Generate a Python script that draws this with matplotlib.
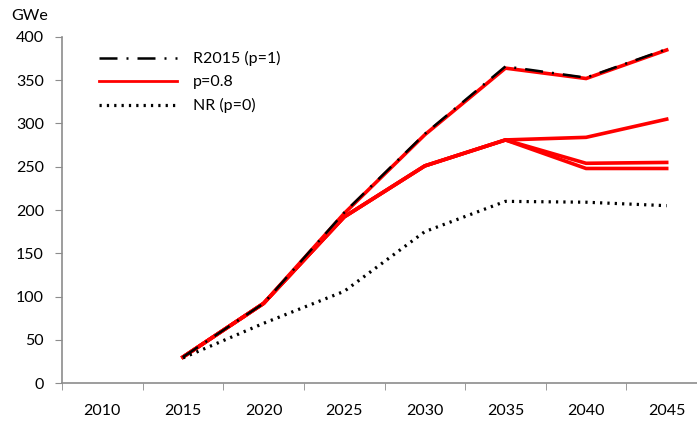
import matplotlib
matplotlib.use("Agg")
import matplotlib.pyplot as plt
import numpy as np

years = ["2010", "2015", "2020", "2025", "2030", "2035", "2040", "2045"]

# GWe, None where there is no value
r2015 = [None, 30, 92, 197, 288, 366, 353, 386]
p08_a = [None, 30, 92, 196, 287, 364, 352, 385]
p08_b = [None, 30, 92, 192, 251, 281, 284, 305]
p08_c = [None, 30, 92, 192, 251, 281, 254, 255]
p08_d = [None, 30, 92, 192, 251, 281, 248, 248]
nr = [None, 29, 69, 106, 175, 210, 209, 205]

plt.rcParams["font.family"] = ["Lato", "DejaVu Sans"]
plt.rcParams["font.size"] = 11.5

GREY = "#8c8c8c"

def arr(vals):
    return np.array([np.nan if v is None else v for v in vals], dtype=float)

fig = plt.figure(figsize=(6.97, 4.23), dpi=100)
ax = fig.add_axes([62 / 697, 40 / 423, 645 / 697, 346 / 423])

x = np.arange(len(years))

for i, s in enumerate([p08_a, p08_b, p08_c, p08_d]):
    ax.plot(x, arr(s), color="#ff0000", lw=2.6, solid_joinstyle="miter",
            label="p=0.8" if i == 0 else None, zorder=3)
ax.plot(x, arr(r2015), color="black", lw=1.8, dashes=(7.2, 3.6, 0.8, 3.6),
        label="R2015 (p=1)", zorder=4)
ax.plot(x, arr(nr), color="black", lw=2.3, dashes=(0.7, 1.6),
        label="NR (p=0)", zorder=3)

ax.set_xlim(-0.5, len(years) - 0.5)
ax.set_ylim(0, 400)
ax.set_yticks(range(0, 401, 50))

ax.set_xticks(x)
ax.set_xticklabels(years)
ax.set_xticks(np.arange(len(years)) - 0.5, minor=True)
ax.tick_params(axis="x", which="major", length=0, pad=15)
ax.tick_params(axis="x", which="minor", length=5, color=GREY, direction="out")
ax.tick_params(axis="y", length=5, color=GREY, pad=8)

for side in ("top", "right"):
    ax.spines[side].set_visible(False)
for side in ("left", "bottom"):
    ax.spines[side].set_color(GREY)
    ax.spines[side].set_linewidth(1.2)

fig.text(11 / 697, 1 - 16 / 423, "GWe", ha="left", va="center")

handles, labels = ax.get_legend_handles_labels()
order = [labels.index("R2015 (p=1)"), labels.index("p=0.8"), labels.index("NR (p=0)")]
leg = ax.legend([handles[i] for i in order], [labels[i] for i in order],
                loc="upper left", bbox_to_anchor=(0.035, 1.0), frameon=False,
                handlelength=4.9, handletextpad=1.0, labelspacing=0.55)
leg.get_lines()[1].set_linewidth(2.0)

fig.savefig("out.png", dpi=100)
